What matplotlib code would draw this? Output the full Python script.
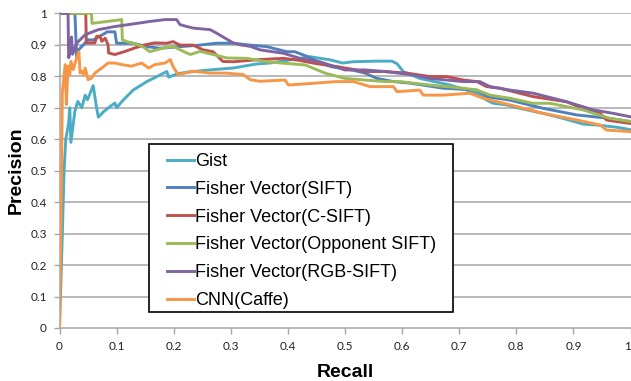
import matplotlib
matplotlib.use("Agg")
import matplotlib.pyplot as plt
from matplotlib.patches import Rectangle

series_names = ["Gist", "Fisher Vector(SIFT)", "Fisher Vector(C-SIFT)",
                "Fisher Vector(Opponent SIFT)", "Fisher Vector(RGB-SIFT)", "CNN(Caffe)"]
series_colors = ["#4BACC6", "#4F81BD", "#C0504D", "#9BBB59", "#8064A2", "#F79646"]

gist_r = [0, 0.005, 0.008, 0.011, 0.016, 0.018, 0.020, 0.027, 0.032, 0.039, 0.045, 0.049, 0.059, 0.065,
          0.068, 0.077, 0.088, 0.097, 0.100, 0.112, 0.129, 0.153, 0.176, 0.188, 0.191, 0.205, 0.223, 0.269,
          0.304, 0.345, 0.369, 0.404, 0.439, 0.474, 0.496, 0.514, 0.556, 0.582, 0.591, 0.602, 0.631, 0.684,
          0.731, 0.748, 0.760, 0.783, 0.801, 0.847, 0.882, 0.917, 0.941, 0.976, 1.0]
gist_p = [0, 0.30, 0.50, 0.60, 0.65, 0.70, 0.59, 0.69, 0.72, 0.70, 0.74, 0.725, 0.77, 0.70,
          0.67, 0.687, 0.703, 0.715, 0.70, 0.725, 0.756, 0.783, 0.804, 0.815, 0.797, 0.807, 0.813, 0.821,
          0.826, 0.839, 0.842, 0.852, 0.862, 0.852, 0.842, 0.846, 0.848, 0.848, 0.84, 0.815, 0.793, 0.772,
          0.746, 0.724, 0.714, 0.709, 0.70, 0.682, 0.666, 0.648, 0.645, 0.638, 0.63]

sift_r = [0, 0.027, 0.030, 0.033, 0.050, 0.059, 0.080, 0.083, 0.097, 0.100, 0.129, 0.153, 0.176, 0.211,
          0.246, 0.275, 0.304, 0.334, 0.363, 0.398, 0.412, 0.435, 0.459, 0.477, 0.512, 0.535, 0.556, 0.585,
          0.614, 0.672, 0.731, 0.748, 0.789, 0.847, 0.906, 0.964, 1.0]
sift_p = [1.0, 1.0, 0.862, 0.883, 0.916, 0.915, 0.937, 0.941, 0.941, 0.905, 0.905, 0.894, 0.889, 0.894,
          0.899, 0.905, 0.905, 0.899, 0.894, 0.878, 0.878, 0.862, 0.841, 0.83, 0.82, 0.81, 0.793, 0.783,
          0.778, 0.762, 0.756, 0.735, 0.724, 0.698, 0.677, 0.666, 0.656]

csift_r = [0, 0.046, 0.047, 0.062, 0.065, 0.071, 0.074, 0.080, 0.085, 0.086, 0.097, 0.115, 0.132, 0.150,
           0.167, 0.188, 0.199, 0.211, 0.234, 0.251, 0.269, 0.286, 0.304, 0.351, 0.392, 0.421, 0.447, 0.488,
           0.535, 0.570, 0.608, 0.649, 0.678, 0.707, 0.731, 0.748, 0.771, 0.830, 0.888, 0.923, 0.947, 0.958,
           0.976, 1.0]
csift_p = [1.0, 1.0, 0.906, 0.906, 0.927, 0.927, 0.911, 0.921, 0.90, 0.874, 0.869, 0.879, 0.89, 0.90,
           0.906, 0.905, 0.91, 0.899, 0.899, 0.884, 0.878, 0.847, 0.846, 0.853, 0.857, 0.85, 0.841, 0.83,
           0.815, 0.815, 0.81, 0.799, 0.799, 0.788, 0.783, 0.767, 0.762, 0.735, 0.719, 0.693, 0.682, 0.661,
           0.656, 0.65]

opp_r = [0, 0.056, 0.057, 0.109, 0.110, 0.118, 0.129, 0.146, 0.158, 0.181, 0.199, 0.211, 0.229, 0.246,
         0.269, 0.293, 0.328, 0.363, 0.395, 0.430, 0.465, 0.500, 0.535, 0.570, 0.596, 0.649, 0.707, 0.731,
         0.754, 0.789, 0.829, 0.859, 0.917, 0.964, 1.0]
opp_p = [1.0, 1.0, 0.968, 0.98, 0.916, 0.91, 0.905, 0.894, 0.878, 0.889, 0.895, 0.884, 0.869, 0.879,
         0.869, 0.858, 0.857, 0.846, 0.841, 0.836, 0.81, 0.793, 0.788, 0.783, 0.783, 0.772, 0.762, 0.756,
         0.74, 0.73, 0.714, 0.714, 0.693, 0.666, 0.656]

rgb_r = [0, 0.015, 0.016, 0.018, 0.021, 0.023, 0.030, 0.045, 0.068, 0.097, 0.132, 0.158, 0.185, 0.205,
         0.211, 0.223, 0.234, 0.264, 0.275, 0.290, 0.304, 0.316, 0.334, 0.351, 0.369, 0.392, 0.421, 0.456,
         0.500, 0.535, 0.570, 0.620, 0.649, 0.707, 0.736, 0.754, 0.789, 0.830, 0.888, 0.935, 0.970, 1.0]
rgb_p = [1.0, 1.0, 0.859, 0.87, 0.925, 0.87, 0.905, 0.932, 0.948, 0.958, 0.967, 0.974, 0.98, 0.98,
         0.964, 0.958, 0.953, 0.948, 0.937, 0.921, 0.906, 0.90, 0.895, 0.884, 0.879, 0.873, 0.857, 0.846,
         0.82, 0.82, 0.815, 0.804, 0.793, 0.783, 0.783, 0.767, 0.756, 0.746, 0.719, 0.693, 0.682, 0.671]

cnn_r = [0, 0.003, 0.005, 0.010, 0.012, 0.015, 0.018, 0.020, 0.024, 0.030, 0.034, 0.036, 0.039, 0.042,
         0.045, 0.048, 0.050, 0.056, 0.062, 0.074, 0.085, 0.097, 0.109, 0.126, 0.144, 0.156, 0.167, 0.185,
         0.194, 0.199, 0.208, 0.234, 0.264, 0.293, 0.322, 0.334, 0.351, 0.395, 0.401, 0.447, 0.485, 0.515,
         0.544, 0.585, 0.591, 0.631, 0.637, 0.672, 0.719, 0.742, 0.789, 0.847, 0.906, 0.947, 0.958, 1.0]
cnn_p = [0, 0.40, 0.75, 0.837, 0.71, 0.832, 0.805, 0.847, 0.821, 0.858, 0.878, 0.81, 0.816, 0.805,
         0.826, 0.805, 0.789, 0.794, 0.81, 0.826, 0.842, 0.842, 0.837, 0.832, 0.842, 0.826, 0.837, 0.842,
         0.853, 0.83, 0.805, 0.816, 0.81, 0.81, 0.805, 0.789, 0.784, 0.788, 0.772, 0.778, 0.783, 0.783,
         0.767, 0.767, 0.751, 0.756, 0.74, 0.74, 0.746, 0.73, 0.709, 0.682, 0.661, 0.645, 0.629, 0.624]

recalls = [gist_r, sift_r, csift_r, opp_r, rgb_r, cnn_r]
precisions = [gist_p, sift_p, csift_p, opp_p, rgb_p, cnn_p]

x_ticks = [0, 0.1, 0.2, 0.3, 0.4, 0.5, 0.6, 0.7, 0.8, 0.9, 1]
x_tick_labels = ["0", "0.1", "0.2", "0.3", "0.4", "0.5", "0.6", "0.7", "0.8", "0.9", "1"]
y_ticks = [0, 0.1, 0.2, 0.3, 0.4, 0.5, 0.6, 0.7, 0.8, 0.9, 1]
y_tick_labels = ["0", "0.1", "0.2", "0.3", "0.4", "0.5", "0.6", "0.7", "0.8", "0.9", "1"]

W, H = 631, 381
fig = plt.figure(figsize=(W / 100, H / 100), dpi=100)
ax = fig.add_axes([59.5 / W, 53 / H, 571 / W, 314.7 / H])

grid_c = "#A6A6A6"
for yv in y_ticks[1:]:
    ax.axhline(yv, color=grid_c, lw=1.1, zorder=1)

handles = []
for r, p, c, n in zip(recalls, precisions, series_colors, series_names):
    h, = ax.plot(r, p, color=c, lw=2.1, label=n, zorder=3)
    handles.append(h)

ax.set_xlim(0, 1)
ax.set_ylim(0, 1)
for s in ["top", "right"]:
    ax.spines[s].set_visible(False)
for s in ["left", "bottom"]:
    ax.spines[s].set_color(grid_c)
    ax.spines[s].set_linewidth(1.1)
ax.spines["left"].set_zorder(0.5)

ax.set_xticks(x_ticks)
ax.set_xticklabels(x_tick_labels)
ax.set_yticks(y_ticks)
ax.set_yticklabels(y_tick_labels)
ax.tick_params(axis="both", colors=grid_c, length=4, width=1.0, labelcolor="#222222",
               labelsize=8.5)
ax.tick_params(axis="x", pad=5)
ax.tick_params(axis="y", pad=5)
for lab in ax.get_xticklabels() + ax.get_yticklabels():
    lab.set_fontfamily("Lato")
ax.get_xticklabels()[-1].set_horizontalalignment("right")

ax.set_xlabel("Recall", fontsize=14, fontweight="bold", family="Liberation Sans", labelpad=9)
ax.set_ylabel("Precision", fontsize=14, fontweight="bold", family="Liberation Sans", labelpad=4)

# legend frame drawn explicitly in figure pixels
box = Rectangle((149 / W, (H - 312) / H), (453 - 149) / W, (312 - 144) / H,
                transform=fig.transFigure, facecolor="white", edgecolor="black",
                linewidth=1.2, zorder=1)
fig.patches.append(box)

leg = fig.legend(handles=handles, labels=series_names, loc="center left",
                 bbox_to_anchor=(166.5 / W, (H - 231) / H), frameon=False,
                 borderpad=0, borderaxespad=0,
                 prop={"family": "Liberation Sans", "size": 13}, handlelength=1.5,
                 handletextpad=0.08, labelspacing=0.6)
leg.set_zorder(5)

fig.savefig("out.png", dpi=100)
